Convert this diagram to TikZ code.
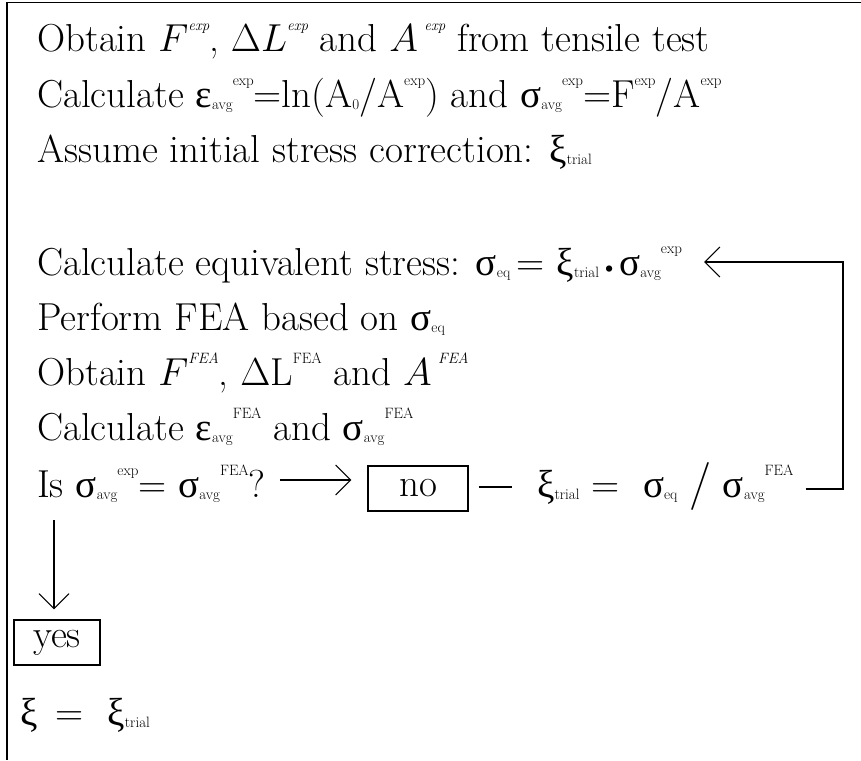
\RequirePackage{fix-cm}
\documentclass[tikz,border=0pt]{standalone}
\usepackage{fontspec}
\usetikzlibrary{arrows.meta}
\newfontfamily\gk{Liberation Serif}
\newcommand\up[1]{\raisebox{0.55em}{\fontsize{15}{15}\selectfont #1}}
\newcommand\dn[1]{\raisebox{-0.06em}{\fontsize{15}{15}\selectfont #1}}
\newcommand\gks{{\gk σ}}
\newcommand\gkx{{\gk ξ}}
\newcommand\gke{{\gk ε}}
\tikzset{
  txt/.style={anchor=base west, inner sep=0pt, font=\fontsize{39}{47}\selectfont},
  boxed/.style={draw, line width=1.1pt, minimum width=#1, minimum height=45pt, inner sep=0pt, font=\fontsize{39}{47}\selectfont},
  barb/.style={line width=1.1pt, -{Straight Barb[length=15pt,width=30pt,line width=1.1pt]}},
  conn/.style={line width=1.1pt},
  frame/.style={line width=1.3pt}
}
\begin{document}
\begin{tikzpicture}[x=1pt,y=-1pt]
\useasboundingbox (0,0) rectangle (861,760);
\draw[frame] (7,760) -- (7,2.5) -- (861,2.5);
\node[txt] (l1) at (37,52) {Obtain $F$\up{\itshape exp}, $\Delta L$\up{\itshape exp} and $A$\,\up{\itshape exp} from tensile test};
\node[txt] (l2) at (37,107) {Calculate \gke\dn{avg}\up{exp}=ln(A\dn{0}/A\up{exp}) and \gks\dn{avg}\up{exp}=F\up{exp}/A\up{exp}};
\node[txt] (l3) at (37,162) {Assume initial stress correction: \gkx\dn{trial}};
\node[txt] (calc) at (37,275) {Calculate equivalent stress: \gks\dn{eq}\,= \gkx\dn{trial}\raisebox{-0.03em}{\fontsize{28}{28}\selectfont\textbullet}\gks\dn{avg}\up{exp}};
\node[txt] (l5) at (37,330) {Perform FEA based on \gks\dn{eq}};
\node[txt] (l6) at (37,385) {Obtain $F$\up{\itshape FEA}, $\Delta$L\up{FEA} and $A$\,\up{\itshape FEA}};
\node[txt] (l7) at (37,440) {Calculate \gke\dn{avg}\up{FEA} and \gks\dn{avg}\up{FEA}};
\node[txt] (q) at (37,497) {Is \gks\dn{avg}\up{exp}= \gks\dn{avg}\up{FEA}?};
\node[boxed=100pt] (no) at (418,488.5) {no};
\node[txt] (upd) at (537,497) {\gkx\dn{trial}\ = \ \gks\dn{eq}\ \raisebox{-0.05em}{\fontsize{48}{48}\selectfont/}\ \gks\dn{avg}\up{FEA}};
\node[boxed=86pt] (yes) at (57,642.5) {yes};
\node[txt] (fin) at (20,725) {\gkx\ \,= \ \gkx\dn{trial}};
\coordinate (loopx) at (843,489);
\draw[barb] ([shift={(14,-17)}]q.base east) -- ([shift={(-16,-8.5)}]no.west);
\draw[conn] ([shift={(10,-1.5)}]no.east) -- ([shift={(-25,-10)}]upd.base west);
\draw[barb] ([xshift=12]upd.base east |- loopx) -- (loopx) |- ([shift={(22,-13)}]calc.base east);
\draw[barb] ([shift={(17,23)}]q.base west) -- ([shift={(-3,-10)}]yes.north);
\end{tikzpicture}
\end{document}
